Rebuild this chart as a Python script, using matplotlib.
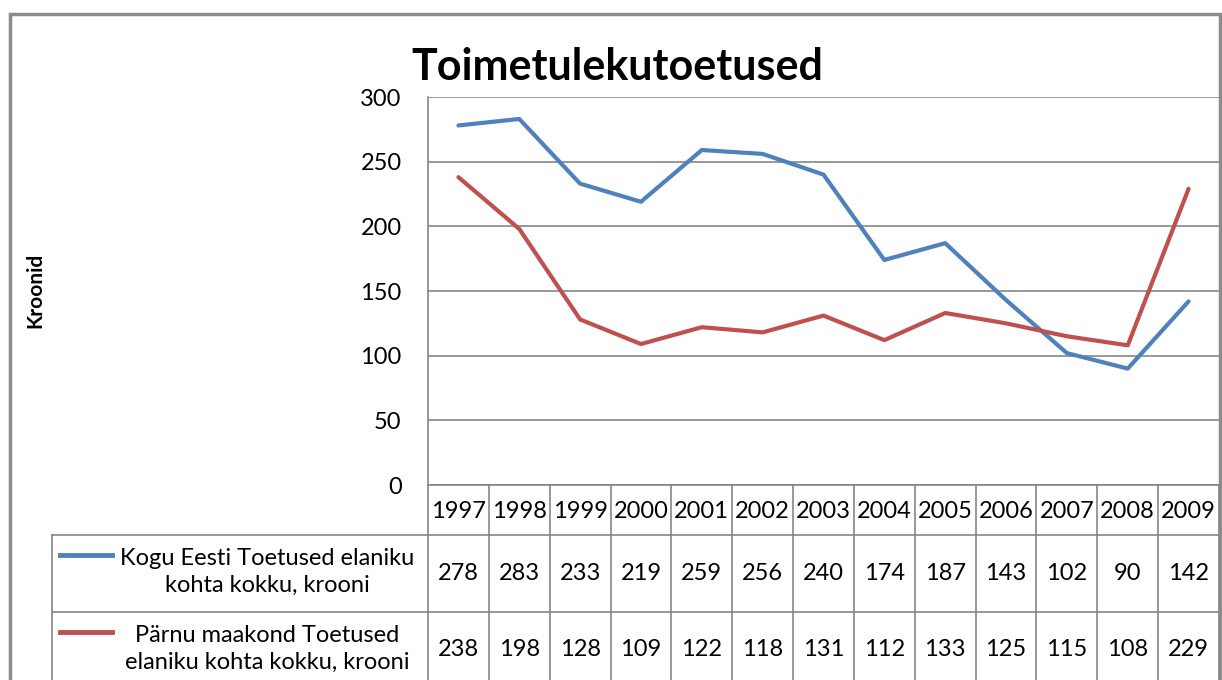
import matplotlib
matplotlib.use("Agg")
import matplotlib.pyplot as plt
from matplotlib.transforms import blended_transform_factory
from matplotlib.lines import Line2D
from matplotlib.patches import Rectangle

years = ["1997", "1998", "1999", "2000", "2001", "2002", "2003", "2004",
         "2005", "2006", "2007", "2008", "2009"]
eesti = [278, 283, 233, 219, 259, 256, 240, 174, 187, 143, 102, 90, 142]
parnu = [238, 198, 128, 109, 122, 118, 131, 112, 133, 125, 115, 108, 229]
series_labels = ["Kogu Eesti Toetused elaniku\nkohta kokku, krooni",
                 "Pärnu maakond Toetused\nelaniku kohta kokku, krooni"]
series_colors = ["#4F81BD", "#C0504D"]
yticks = [0, 50, 100, 150, 200, 250, 300]
title = "Toimetulekutoetused"
ylabel = "Kroonid"

plt.rcParams['font.family'] = ['Lato', 'DejaVu Sans']
W, H = 1222, 680
fig = plt.figure(figsize=(W / 100, H / 100), dpi=100)

def fx(px):
    return px / W

def fy(py):
    return 1 - py / H

grid_c = "#868686"
fs = 17
ax_l, ax_r, ax_t, ax_b = 428, 1219, 97, 485
ax = fig.add_axes([fx(ax_l), fy(ax_b), fx(ax_r) - fx(ax_l), fy(ax_t) - fy(ax_b)])
x = list(range(len(years)))
ax.plot(x, eesti, color=series_colors[0], lw=3, solid_capstyle='round')
ax.plot(x, parnu, color=series_colors[1], lw=3, solid_capstyle='round')
ax.set_xlim(-0.5, len(years) - 0.5)
ax.set_ylim(0, 300)
ax.set_yticks(yticks)
ax.set_yticklabels([str(v) for v in yticks], fontsize=fs)
ax.tick_params(axis='y', length=0, pad=19)
ax.set_xticks([])
ax.yaxis.grid(True, color=grid_c, lw=1.2)
ax.set_axisbelow(True)
for s in ['top', 'right', 'bottom']:
    ax.spines[s].set_visible(False)
ax.spines['left'].set_color(grid_c)
ax.spines['left'].set_linewidth(1.2)

# outer chart border
fig.add_artist(Rectangle((fx(10), fy(720)), fx(1220) - fx(10), fy(14) - fy(720),
                         transform=fig.transFigure, fill=False, ec="#8c8c8c", lw=2.5))

fig.text(fx(617), fy(67), title, fontsize=31, fontweight='bold', ha='center', va='center')
fig.text(fx(35), fy(290), ylabel, fontsize=15, fontweight='bold', rotation=90,
         ha='center', va='center')

# data table
tr = blended_transform_factory(ax.transData, fig.transFigure)
row_y = [485, 535, 612, 690]
leg_l = 52
for yy in row_y[1:3]:
    fig.add_artist(Line2D([fx(leg_l), fx(ax_r)], [fy(yy), fy(yy)], color=grid_c, lw=1.2,
                          transform=fig.transFigure))
fig.add_artist(Line2D([fx(ax_l), fx(ax_r)], [fy(485), fy(485)], color=grid_c, lw=1.2,
                      transform=fig.transFigure))
fig.add_artist(Line2D([fx(leg_l), fx(leg_l)], [fy(535), fy(690)], color=grid_c, lw=1.2,
                      transform=fig.transFigure))
for i in range(len(years) + 1):
    fig.add_artist(Line2D([i - 0.5, i - 0.5], [fy(485), fy(690)], color=grid_c, lw=1.2,
                          transform=tr))

for i, yr in enumerate(years):
    fig.text(i, fy(511), yr, transform=tr, fontsize=fs, ha='center', va='center')
    fig.text(i, fy(574), str(eesti[i]), transform=tr, fontsize=fs, ha='center', va='center')
    fig.text(i, fy(650), str(parnu[i]), transform=tr, fontsize=fs, ha='center', va='center')

for k, (lab, col) in enumerate(zip(series_labels, series_colors)):
    yc = [572, 649][k]
    fig.add_artist(Line2D([fx(60), fx(112)], [fy(yc - 17), fy(yc - 17)], color=col, lw=3.5,
                          transform=fig.transFigure))
    fig.text(fx(267), fy(yc), lab, fontsize=fs, ha='center', va='center', linespacing=1.3)

fig.savefig("out.png", dpi=100)
